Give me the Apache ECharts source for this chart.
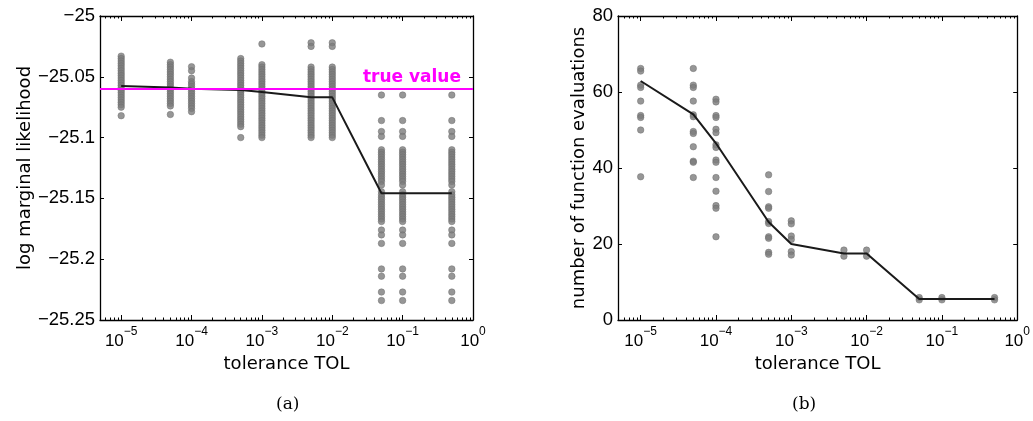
<!DOCTYPE html>
<html>
<head>
<meta charset="utf-8">
<script src="https://cdn.jsdelivr.net/npm/echarts@6/dist/echarts.min.js"></script>
<style>
html,body{margin:0;padding:0;background:#fff;}
#chart{width:1033px;height:421px;}
</style>
</head>
<body>
<div id="chart"></div>
<script>
// ---------- data ----------
const tolerances = [1e-5, 5e-5, 1e-4, 5e-4, 1e-3, 5e-3, 1e-2, 5e-2, 1e-1, 5e-1];
const xTickValues = [1e-5, 1e-4, 1e-3, 1e-2, 1e-1, 1];

// (a) log marginal likelihood, individual runs per tolerance
const logLikRuns = [
  [-25.033,-25.035,-25.037,-25.039,-25.041,-25.043,-25.045,-25.047,-25.049,-25.051,-25.053,-25.055,-25.057,-25.059,-25.061,-25.063,-25.065,-25.067,-25.069,-25.071,-25.073,-25.075,-25.082],
  [-25.038,-25.040,-25.042,-25.044,-25.046,-25.048,-25.050,-25.052,-25.054,-25.056,-25.058,-25.060,-25.062,-25.064,-25.066,-25.068,-25.070,-25.072,-25.074,-25.081],
  [-25.0417,-25.045,-25.051,-25.054,-25.056,-25.058,-25.060,-25.062,-25.064,-25.066,-25.068,-25.070,-25.072,-25.074,-25.076,-25.0787],
  [-25.035,-25.037,-25.039,-25.041,-25.043,-25.045,-25.047,-25.049,-25.051,-25.053,-25.055,-25.057,-25.059,-25.061,-25.063,-25.065,-25.067,-25.069,-25.071,-25.073,-25.075,-25.077,-25.079,-25.081,-25.083,-25.085,-25.087,-25.089,-25.091,-25.100],
  [-25.023,-25.040,-25.042,-25.044,-25.046,-25.048,-25.050,-25.052,-25.054,-25.056,-25.058,-25.060,-25.062,-25.064,-25.066,-25.068,-25.070,-25.072,-25.074,-25.076,-25.078,-25.080,-25.082,-25.084,-25.086,-25.088,-25.090,-25.092,-25.094,-25.096,-25.098,-25.100],
  [-25.022,-25.025,-25.042,-25.044,-25.046,-25.048,-25.050,-25.052,-25.054,-25.056,-25.058,-25.060,-25.062,-25.064,-25.066,-25.068,-25.070,-25.072,-25.074,-25.076,-25.078,-25.080,-25.082,-25.084,-25.086,-25.088,-25.090,-25.092,-25.094,-25.096,-25.098,-25.100],
  [-25.022,-25.025,-25.042,-25.044,-25.046,-25.048,-25.050,-25.052,-25.054,-25.056,-25.058,-25.060,-25.062,-25.064,-25.066,-25.068,-25.070,-25.072,-25.074,-25.076,-25.078,-25.080,-25.082,-25.084,-25.086,-25.088,-25.090,-25.092,-25.094,-25.096,-25.098,-25.100],
  [-25.065,-25.086,-25.095,-25.099,-25.110,-25.112,-25.114,-25.116,-25.118,-25.120,-25.122,-25.124,-25.126,-25.128,-25.130,-25.132,-25.134,-25.136,-25.139,-25.1445,-25.147,-25.149,-25.151,-25.153,-25.155,-25.157,-25.159,-25.161,-25.163,-25.165,-25.167,-25.169,-25.176,-25.180,-25.187,-25.208,-25.214,-25.227,-25.234],
  [-25.065,-25.086,-25.095,-25.099,-25.110,-25.112,-25.114,-25.116,-25.118,-25.120,-25.122,-25.124,-25.126,-25.128,-25.130,-25.132,-25.134,-25.136,-25.139,-25.1445,-25.147,-25.149,-25.151,-25.153,-25.155,-25.157,-25.159,-25.161,-25.163,-25.165,-25.167,-25.169,-25.176,-25.180,-25.187,-25.208,-25.214,-25.227,-25.234],
  [-25.065,-25.086,-25.095,-25.099,-25.110,-25.112,-25.114,-25.116,-25.118,-25.120,-25.122,-25.124,-25.126,-25.128,-25.130,-25.132,-25.134,-25.136,-25.139,-25.1445,-25.147,-25.149,-25.151,-25.153,-25.155,-25.157,-25.159,-25.161,-25.163,-25.165,-25.167,-25.169,-25.176,-25.180,-25.187,-25.208,-25.214,-25.227,-25.234]
];
const logLikMean = [-25.0576, -25.0587, -25.0598, -25.0609, -25.0625, -25.0669, -25.0669, -25.1458, -25.1458, -25.1458];
const trueValue = -25.058;

// (b) number of function evaluations per tolerance
const evalRuns = [
  [66.2, 65.5, 61.8, 61.2, 57.6, 53.8, 53.3, 50.0, 37.7],
  [66.2, 61.8, 61.2, 57.6, 54.0, 53.5, 49.6, 49.1, 45.6, 41.8, 41.5, 37.5],
  [58.1, 57.4, 53.8, 53.3, 50.2, 49.3, 46.1, 45.4, 42.1, 41.5, 37.5, 33.9, 30.1, 29.4, 21.9],
  [38.2, 33.8, 29.8, 29.4, 25.9, 25.4, 21.9, 21.5, 17.8, 17.3],
  [26.1, 25.3, 22.1, 21.2, 18.0, 17.1],
  [18.4, 16.8],
  [18.4, 16.8],
  [5.9, 5.3],
  [5.9, 5.3],
  [5.9, 5.3]
];
const evalMean = [62.9, 54.1, 46.5, 25.8, 20.0, 17.5, 17.5, 5.5, 5.5, 5.5];

const xMin = 5e-6, xMax = 1;

// ---------- helpers ----------
const minorTickValues = [];
for (let e = -6; e <= -1; e++) {
  for (let k = 2; k <= 9; k++) {
    const v = k * Math.pow(10, e);
    if (v > xMin && v < xMax) minorTickValues.push(v);
  }
}
function expLabel(v) {
  const e = Math.round(Math.log10(v));
  return '{b|10}{s|' + (e < 0 ? '\u2212' + (-e) : String(e)) + '}';
}
function signed(v, dec) {
  const s = String(parseFloat(Math.abs(v).toFixed(dec)));
  return (v < -1e-12 ? '\u2212' : '') + s;
}
function pairs(runs) {
  const out = [];
  runs.forEach((col, i) => col.forEach(v => out.push([tolerances[i], v])));
  return out;
}
function meanPairs(m) { return m.map((v, i) => [tolerances[i], v]); }

const axisLineStyle = {color: '#000', width: 1.3};
const sansT = 'DejaVu Sans';
const sansL = 'Liberation Sans';

function xAxesFor(gridIndex, name) {
  const common = {
    type: 'log', logBase: 10, gridIndex, min: xMin, max: xMax,
    splitLine: {show: false}, axisLine: {onZero: false, lineStyle: axisLineStyle}
  };
  return [
    Object.assign({}, common, {
      position: 'bottom',
      name, nameLocation: 'middle', nameGap: 28,
      nameTextStyle: {fontFamily: sansT, fontSize: 18, color: '#000'},
      axisTick: {show: true, inside: true, length: 5, customValues: xTickValues, lineStyle: {color: '#000', width: 1}},
      axisLabel: {
        show: true, customValues: xTickValues, margin: 6, formatter: expLabel,
        rich: {
          b: {fontFamily: sansL, fontSize: 17, color: '#000', lineHeight: 24, verticalAlign: 'bottom'},
          s: {fontFamily: sansL, fontSize: 12, color: '#000', lineHeight: 24, verticalAlign: 'top'}
        }
      }
    }),
    Object.assign({}, common, {
      position: 'bottom', axisLine: {show: false, onZero: false},
      axisTick: {show: true, inside: true, length: 2.5, customValues: minorTickValues, lineStyle: {color: '#000', width: 1}},
      axisLabel: {show: false}
    }),
    Object.assign({}, common, {
      position: 'top',
      axisTick: {show: true, inside: true, length: 5, customValues: xTickValues, lineStyle: {color: '#000', width: 1}},
      axisLabel: {show: false}
    }),
    Object.assign({}, common, {
      position: 'top', axisLine: {show: false, onZero: false},
      axisTick: {show: true, inside: true, length: 2.5, customValues: minorTickValues, lineStyle: {color: '#000', width: 1}},
      axisLabel: {show: false}
    })
  ];
}
function yAxesFor(gridIndex, min, max, interval, dec, name, nameGap) {
  const common = {
    type: 'value', gridIndex, min, max, interval,
    splitLine: {show: false}, axisLine: {show: true, onZero: false, lineStyle: axisLineStyle},
    axisTick: {show: true, inside: true, length: 4, lineStyle: {color: '#000', width: 1}}
  };
  return [
    Object.assign({}, common, {
      position: 'left', name, nameLocation: 'middle', nameGap,
      nameTextStyle: {fontFamily: sansT, fontSize: 18, color: '#000'},
      axisLabel: {show: true, margin: 5, fontFamily: sansL, fontSize: 18.5, color: '#000',
        formatter: v => signed(v, dec)}
    }),
    Object.assign({}, common, {position: 'right', axisLabel: {show: false}})
  ];
}

const dotStyle = {color: '#7c7c7c', borderColor: '#6e6e6e', borderWidth: 0.6};

const option = {
  backgroundColor: '#fff',
  animation: false,
  grid: [
    {left: 100, top: 16, width: 373, height: 304},
    {left: 618, top: 16, width: 400, height: 304}
  ],
  xAxis: [].concat(xAxesFor(0, 'tolerance TOL'), xAxesFor(1, 'tolerance TOL')),
  yAxis: [].concat(
    yAxesFor(0, -25.25, -25, 0.05, 2, 'log marginal likelihood', 66),
    yAxesFor(1, 0, 80, 20, 0, 'number of function evaluations', 29)
  ),
  series: [
    {
      type: 'line', xAxisIndex: 0, yAxisIndex: 0, data: [], z: 1, silent: true,
      markLine: {
        silent: true, symbol: 'none', animation: false,
        lineStyle: {color: '#ff00ff', width: 2, type: 'solid'},
        label: {show: true, position: 'insideEndTop', formatter: 'true value', color: '#ff00ff',
          fontFamily: 'DejaVu Sans', fontWeight: 'bold', fontSize: 17, distance: [12, 3]},
        data: [{yAxis: trueValue}]
      }
    },
    {
      type: 'scatter', xAxisIndex: 0, yAxisIndex: 0, z: 2, symbolSize: 6.5,
      itemStyle: dotStyle, data: pairs(logLikRuns)
    },
    {
      type: 'line', xAxisIndex: 0, yAxisIndex: 0, z: 3, showSymbol: false, symbol: 'none',
      lineStyle: {color: '#1a1a1a', width: 2}, data: meanPairs(logLikMean)
    },
    {
      type: 'scatter', xAxisIndex: 4, yAxisIndex: 2, z: 2, symbolSize: 6.5,
      itemStyle: dotStyle, data: pairs(evalRuns)
    },
    {
      type: 'line', xAxisIndex: 4, yAxisIndex: 2, z: 3, showSymbol: false, symbol: 'none',
      lineStyle: {color: '#1a1a1a', width: 2}, data: meanPairs(evalMean)
    }
  ],
  graphic: [
    {type: 'text', left: 276, top: 396, style: {text: '(a)', font: '17px "DejaVu Serif"', fill: '#000'}},
    {type: 'text', left: 792, top: 396, style: {text: '(b)', font: '17px "DejaVu Serif"', fill: '#000'}}
  ]
};

const chart = echarts.init(document.getElementById('chart'), null, {renderer: 'canvas'});
chart.setOption(option);
</script>
</body>
</html>
